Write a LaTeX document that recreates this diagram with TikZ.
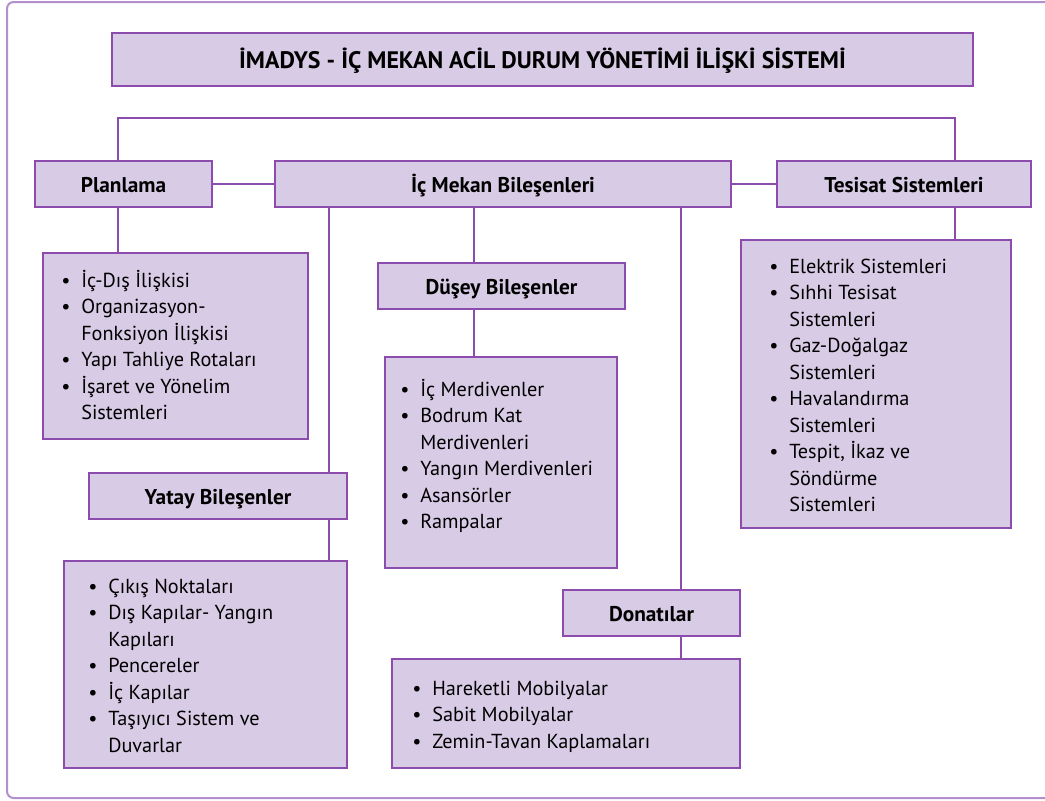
\documentclass[tikz,border=0pt]{standalone}
\usepackage{fontspec}
\setmainfont{PT Sans}
\usetikzlibrary{fit}
\definecolor{boxfill}{HTML}{D8CBE5}
\definecolor{boxline}{HTML}{8C4CAD}
\definecolor{frameline}{HTML}{B38FCE}
\newcommand{\blist}[1]{\begin{tabular}[t]{@{}p{15pt}@{}l@{}}#1\end{tabular}}
\newcommand{\bi}{\textbullet}
\begin{document}
\begin{tikzpicture}[x=0.75pt,y=-0.75pt,
  hbox/.style={draw=boxline, fill=boxfill, line width=1.1pt, inner sep=0pt},
  htext/.style={inner sep=0pt, font=\bfseries\fontsize{16}{18}\selectfont},
  lbox/.style={draw=boxline, fill=boxfill, line width=1.1pt, inner sep=0pt},
  ltext/.style={anchor=base west, inner sep=0pt, font=\fontsize{15.2}{19.9}\selectfont},
  conn/.style={draw=boxline, line width=1.1pt}]
\useasboundingbox (0,0) rectangle (1045,800);
\draw[frameline, line width=1.5pt, rounded corners=5pt] (7,2) rectangle (1070,798);

% header boxes
\node[hbox, fit={(112,33)(973,86)}] (title) {};
\node[hbox, fit={(35,161)(212,207)}] (plan) {};
\node[hbox, fit={(275,161)(731,207)}] (ic) {};
\node[hbox, fit={(777,161)(1031,207)}] (tes) {};
\node[hbox, fit={(378,263)(625,309)}] (dus) {};
\node[hbox, fit={(89,473)(347,519)}] (yat) {};
\node[hbox, fit={(563,590)(740,636)}] (don) {};

% header texts
\node[htext, font=\bfseries\fontsize{17.9}{20}\selectfont, anchor=base] (titleT) at ([yshift=-7pt]title.center) {İMADYS - İÇ MEKAN ACİL DURUM YÖNETİMİ İLİŞKİ SİSTEMİ};
\node[htext, anchor=base] (planT0) at ([yshift=-6.5pt]plan.center) {Planlama};
\node[htext, anchor=base] (icT) at ([yshift=-6.5pt]ic.center) {İç Mekan Bileşenleri};
\node[htext, anchor=base] (tesT0) at ([yshift=-6.5pt]tes.center) {Tesisat Sistemleri};
\node[htext, anchor=base] (dusT0) at ([yshift=-6.5pt]dus.center) {Düşey Bileşenler};
\node[htext, anchor=base] (yatT0) at ([yshift=-6.5pt]yat.center) {Yatay Bileşenler};
\node[htext, anchor=base] (donT0) at ([yshift=-6.5pt]don.center) {Donatılar};

% list boxes
\node[lbox, fit={(43,253)(308,439)}] (planlist) {};
\node[lbox, fit={(741,240)(1011,528)}] (teslist) {};
\node[lbox, fit={(385,357)(617,568)}] (duslist) {};
\node[lbox, fit={(64,561)(347,768)}] (yatlist) {};
\node[lbox, fit={(392,659)(740,768)}] (donlist) {};

% list texts
\node[ltext] (planT) at (61,287) {\blist{\bi & İç-Dış İlişkisi\\ \bi & Organizasyon-\\ & Fonksiyon İlişkisi\\ \bi & Yapı Tahliye Rotaları\\ \bi & İşaret ve Yönelim\\ & Sistemleri}};
\node[ltext] (tesT) at (769,273) {\blist{\bi & Elektrik Sistemleri\\ \bi & Sıhhi Tesisat\\ & Sistemleri\\ \bi & Gaz-Doğalgaz\\ & Sistemleri\\ \bi & Havalandırma\\ & Sistemleri\\ \bi & Tespit, İkaz ve\\ & Söndürme\\ & Sistemleri}};
\node[ltext] (dusT) at (400,396) {\blist{\bi & İç Merdivenler\\ \bi & Bodrum Kat\\ & Merdivenleri\\ \bi & Yangın Merdivenleri\\ \bi & Asansörler\\ \bi & Rampalar}};
\node[ltext] (yatT) at (88,593) {\blist{\bi & Çıkış Noktaları\\ \bi & Dış Kapılar- Yangın\\ & Kapıları\\ \bi & Pencereler\\ \bi & İç Kapılar\\ \bi & Taşıyıcı Sistem ve\\ & Duvarlar}};
\node[ltext] (donT) at (412,695) {\blist{\bi & Hareketli Mobilyalar\\ \bi & Sabit Mobilyalar\\ \bi & Zemin-Tavan Kaplamaları}};

% junction coordinates
\coordinate (jL) at (118,118);
\coordinate (jR) at (955,118);
\coordinate (xY) at (329,0);
\coordinate (xD) at (474,0);
\coordinate (xN) at (681,0);

% connectors
\draw[conn] (plan.north -| jL) -- (jL) -- (jR) -- (tes.north -| jR);
\draw[conn] (plan.east) -- (ic.west);
\draw[conn] (ic.east) -- (tes.west);
\draw[conn] (plan.south -| jL) -- (planlist.north -| jL);
\draw[conn] (tes.south -| jR) -- (teslist.north -| jR);
\draw[conn] (ic.south -| xY) -- (yat.north -| xY);
\draw[conn] (yat.south -| xY) -- (yatlist.north -| xY);
\draw[conn] (ic.south -| xD) -- (dus.north -| xD);
\draw[conn] (dus.south -| xD) -- (duslist.north -| xD);
\draw[conn] (ic.south -| xN) -- (don.north -| xN);
\draw[conn] (don.south -| xN) -- (donlist.north -| xN);
\end{tikzpicture}
\end{document}
